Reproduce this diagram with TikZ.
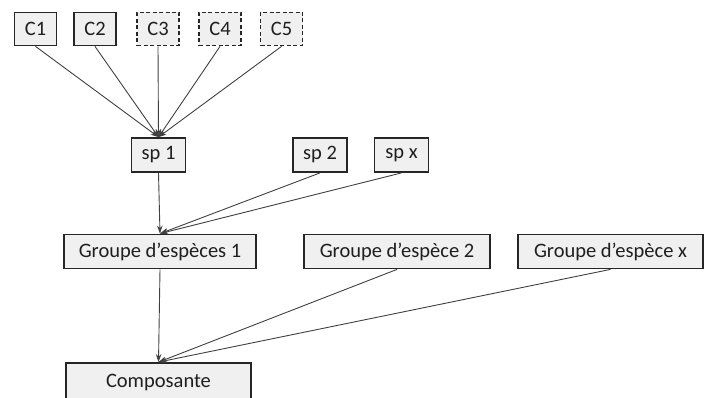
\documentclass[tikz,border=0pt]{standalone}
\usepackage{fontspec}
\setmainfont{Carlito}
\usetikzlibrary{arrows.meta}
\begin{document}
\begin{tikzpicture}[x=1pt,y=-1pt,
  box/.style={draw=black!85, line width=1.8pt, fill=black!6, inner sep=0pt,
    font=\fontsize{20.5}{24}\selectfont, text=black!88},
  dbox/.style={box, dash pattern=on 4pt off 2.5pt},
  cbox/.style={minimum width=42pt, minimum height=33pt},
  spbox/.style={minimum width=54pt, minimum height=34pt},
  gbox/.style={minimum height=34pt},
  conn/.style={draw=black!75, line width=0.9pt, -{Stealth[length=8pt,width=5.5pt]}}]
\useasboundingbox (0,0) rectangle (710,398);
% top row
\node[box,cbox]  (c1) at (35.5,29)  {C1};
\node[box,cbox]  (c2) at (95,29)    {C2};
\node[dbox,cbox] (c3) at (158,29)   {C3};
\node[dbox,cbox] (c4) at (220,29)   {C4};
\node[dbox,cbox] (c5) at (281.5,29) {C5};
% species
\node[box,spbox] (sp1) at (158.5,155) {sp 1};
\node[box,spbox] (sp2) at (320,155)   {sp 2};
\node[box,spbox] (spx) at (401.5,155) {sp x};
% groups
\node[box,gbox,minimum width=192pt] (g1) at (160,251.5)   {Groupe d’espèces 1};
\node[box,gbox,minimum width=186pt] (g2) at (397,251.5)   {Groupe d’espèce 2};
\node[box,gbox,minimum width=185pt] (gx) at (610.5,251.5) {Groupe d’espèce x};
% component
\node[box,minimum width=185pt,minimum height=38pt,text depth=0pt] (comp) at (158.5,382) {\raisebox{2pt}{Composante}};
% connectors
\foreach \c in {c1,c2,c3,c4,c5} \draw[conn] (\c.south) -- (sp1.north);
\draw[conn] (sp1.south) -- (g1.north);
\draw[conn] (sp2.south) -- (g1.north);
\draw[conn] (spx.south) -- (g1.north);
\draw[conn] (g1.south) -- (comp.north);
\draw[conn] (g2.south) -- (comp.north);
\draw[conn] (gx.south) -- (comp.north);
\end{tikzpicture}
\end{document}
